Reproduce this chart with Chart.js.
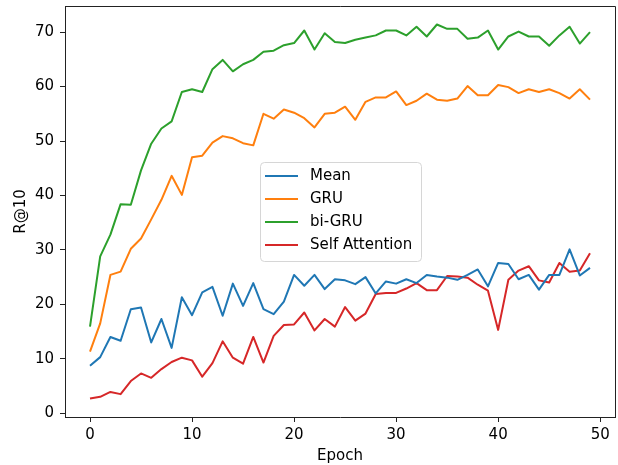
<!DOCTYPE html>
<html>
<head>
<meta charset="utf-8">
<script src="https://cdn.jsdelivr.net/npm/chart.js@4.4.1/dist/chart.umd.min.js"></script>
<style>
  html, body { margin: 0; padding: 0; background: #fff; }
  #wrap { width: 618px; height: 465px; }
</style>
</head>
<body>
<div id="wrap"><canvas id="chart" width="618" height="465"></canvas></div>
<script>
// Data
const epochs = Array.from({ length: 50 }, (_, i) => i);
const seriesNames = ['Mean', 'GRU', 'bi-GRU', 'Self Attention'];
const seriesColors = ['#1f77b4', '#ff7f0e', '#2ca02c', '#d62728'];

const meanValues = [8.7, 10.3, 14.0, 13.3, 19.1, 19.4, 13.0, 17.3, 12.0, 21.3,
    18.0, 22.2, 23.2, 17.9, 23.8, 19.7, 23.9, 19.1, 18.2, 20.5,
    25.4, 23.4, 25.4, 22.8, 24.6, 24.4, 23.7, 25.0, 22.0, 24.2,
    23.8, 24.6, 23.9, 25.4, 25.1, 24.9, 24.5, 25.4, 26.4, 23.3,
    27.6, 27.4, 24.6, 25.4, 22.7, 25.4, 25.4, 30.1, 25.3, 26.7];
const gruValues = [11.3, 16.5, 25.4, 26.0, 30.2, 32.1, 35.6, 39.2, 43.6, 40.1,
    47.0, 47.3, 49.7, 50.9, 50.5, 49.6, 49.2, 55.0, 54.1, 55.8,
    55.2, 54.2, 52.5, 55.0, 55.2, 56.3, 53.9, 57.2, 58.0, 58.0,
    59.1, 56.6, 57.4, 58.7, 57.6, 57.4, 57.8, 60.1, 58.4, 58.4,
    60.3, 59.9, 58.8, 59.5, 59.0, 59.5, 58.8, 57.8, 59.5, 57.6];
const biGruValues = [15.9, 28.8, 32.8, 38.4, 38.3, 44.6, 49.5, 52.3, 53.6, 59.0,
    59.5, 59.0, 63.2, 64.9, 62.8, 64.1, 64.9, 66.4, 66.6, 67.6,
    68.0, 70.3, 66.8, 69.8, 68.2, 68.0, 68.6, 69.0, 69.4, 70.3,
    70.3, 69.4, 71.0, 69.2, 71.4, 70.6, 70.6, 68.8, 69.0, 70.3,
    66.8, 69.2, 70.1, 69.2, 69.2, 67.5, 69.4, 71.0, 67.9, 70.0];
const selfAttnValues = [2.7, 3.0, 3.9, 3.5, 5.9, 7.3, 6.5, 8.1, 9.4, 10.2,
    9.7, 6.7, 9.2, 13.2, 10.2, 9.1, 14.0, 9.3, 14.2, 16.2,
    16.3, 18.5, 15.2, 17.3, 15.9, 19.5, 17.0, 18.3, 21.9, 22.1,
    22.1, 22.9, 23.9, 22.6, 22.6, 25.2, 25.1, 24.9, 23.6, 22.5,
    15.3, 24.5, 26.2, 27.0, 24.4, 24.0, 27.6, 26.0, 26.2, 29.4];

const xTicks = [0, 10, 20, 30, 40, 50];
const yTicks = [0, 10, 20, 30, 40, 50, 60, 70];

const allValues = [meanValues, gruValues, biGruValues, selfAttnValues];

const FONT = 'DejaVu Sans';
const FONT_SIZE = 15;
const AXIS_COLOR = '#222';

// frame on top and right, like matplotlib spines
const framePlugin = {
    id: 'frame',
    afterDatasetsDraw(chart) {
        const { ctx, chartArea: a } = chart;
        ctx.save();
        ctx.strokeStyle = AXIS_COLOR;
        ctx.lineWidth = 1;
        ctx.beginPath();
        ctx.moveTo(a.left, a.top + 0.5);
        ctx.lineTo(a.right + 0.5, a.top + 0.5);
        ctx.lineTo(a.right + 0.5, a.bottom);
        ctx.stroke();
        ctx.restore();
    }
};

// legend box drawn in the middle of the plot
const boxLegend = {
    id: 'boxLegend',
    afterDraw(chart) {
        const ctx = chart.ctx;
        const x = 260, y = 162, w = 161, h = 99, r = 4;
        ctx.save();
        ctx.fillStyle = 'rgba(255,255,255,0.8)';
        ctx.strokeStyle = '#d6d6d6';
        ctx.lineWidth = 1;
        ctx.beginPath();
        ctx.roundRect(x + 0.5, y + 0.5, w, h, r);
        ctx.fill();
        ctx.stroke();
        ctx.font = FONT_SIZE + 'px "' + FONT + '"';
        ctx.textBaseline = 'middle';
        ctx.fillStyle = '#000';
        chart.data.datasets.forEach((ds, i) => {
            const ly = 176 + i * 23;
            ctx.strokeStyle = ds.borderColor;
            ctx.lineWidth = 2;
            ctx.beginPath();
            ctx.moveTo(265, ly);
            ctx.lineTo(298, ly);
            ctx.stroke();
            ctx.fillText(ds.label, 310, ly);
        });
        ctx.restore();
    }
};

const fixScale = (size) => (scale) => {
    if (scale.isHorizontal()) scale.height = size; else scale.width = size;
    scale.paddingTop = 0;
    scale.paddingBottom = 0;
    scale.paddingLeft = 0;
    scale.paddingRight = 0;
};

new Chart(document.getElementById('chart'), {
    type: 'line',
    data: {
        datasets: seriesNames.map((name, i) => ({
            label: name,
            data: epochs.map((e, j) => ({ x: e, y: allValues[i][j] })),
            borderColor: seriesColors[i],
            backgroundColor: seriesColors[i],
            borderWidth: 2,
            borderJoinStyle: 'round',
            pointRadius: 0,
            tension: 0,
            fill: false
        }))
    },
    options: {
        responsive: false,
        animation: false,
        devicePixelRatio: 1,
        layout: { padding: { top: 6, right: 3, left: 0, bottom: 0 } },
        plugins: {
            legend: { display: false },
            tooltip: { enabled: false }
        },
        scales: {
            x: {
                type: 'linear',
                min: -2.45,
                max: 51.45,
                afterFit: fixScale(48),
                afterBuildTicks: (scale) => { scale.ticks = xTicks.map(v => ({ value: v })); },
                grid: { drawOnChartArea: false, drawTicks: true, tickLength: 5, color: AXIS_COLOR },
                border: { color: AXIS_COLOR, width: 1 },
                ticks: { color: '#000', padding: 4, maxRotation: 0, font: { family: FONT, size: FONT_SIZE } },
                title: { display: true, text: 'Epoch', color: '#000', padding: { top: 0, bottom: 0 }, font: { family: FONT, size: FONT_SIZE } }
            },
            y: {
                type: 'linear',
                min: -0.7,
                max: 74.8,
                afterFit: fixScale(65),
                afterBuildTicks: (scale) => { scale.ticks = yTicks.map(v => ({ value: v })); },
                grid: { drawOnChartArea: false, drawTicks: true, tickLength: 5, color: AXIS_COLOR },
                border: { color: AXIS_COLOR, width: 1 },
                ticks: { color: '#000', padding: 6, font: { family: FONT, size: FONT_SIZE } },
                title: { display: true, text: 'R@10', color: '#000', padding: { top: 12, bottom: 0 }, font: { family: FONT, size: FONT_SIZE } }
            }
        }
    },
    plugins: [framePlugin, boxLegend]
});
</script>
</body>
</html>
